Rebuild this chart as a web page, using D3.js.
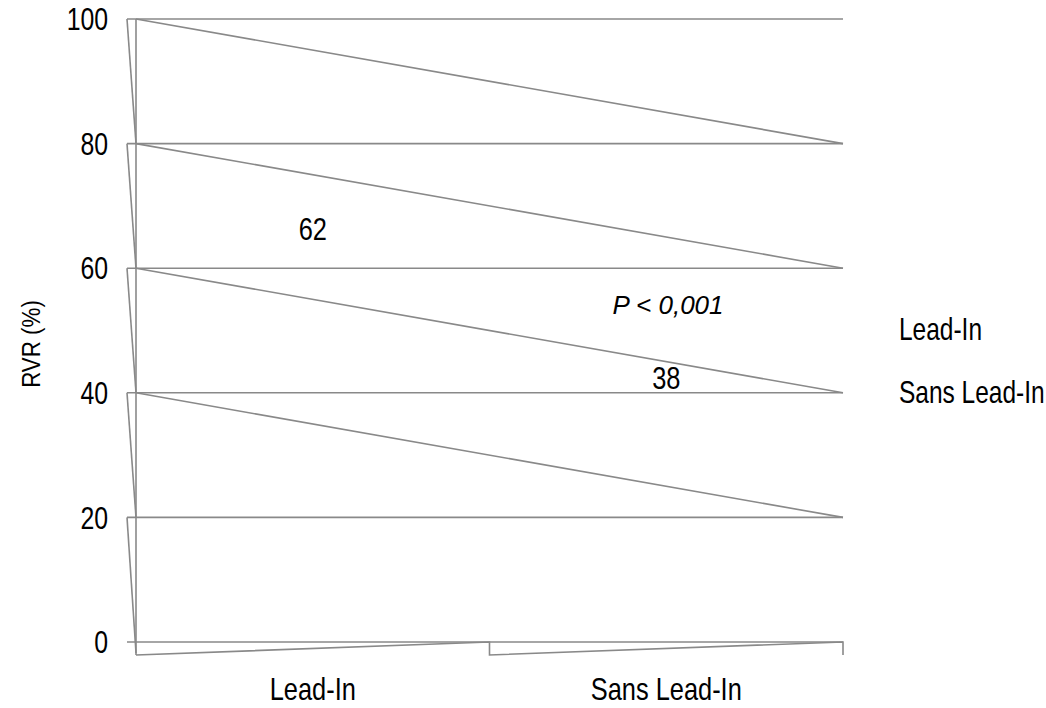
<!DOCTYPE html>
<html><head><meta charset="utf-8">
<script src="https://cdn.jsdelivr.net/npm/d3@7"></script>
<style>body{margin:0;background:#fff}svg{display:block}</style>
</head><body><svg id="c" width="1046" height="708"></svg>
<script>
const categories = ["Lead-In", "Sans Lead-In"];
const values = [62, 38];
const yTicks = [0, 20, 40, 60, 80, 100];
const legendItems = ["Lead-In", "Sans Lead-In"];
const pText = "P < 0,001";
const yTitle = "RVR (%)";

(function () {
const svg = d3.select("#c");
const pLeft = 136, pRight = 843, pTop = 19, pBottom = 642;
const y = d3.scaleLinear().domain([0, 100]).range([pBottom, pTop]);
const x = d3.scaleBand().domain(categories).range([pLeft, pRight]).padding(0);
const col = "#898989";
const sans = "'Liberation Sans', Arial, sans-serif";
const FS = 31;
const g = svg.append("g").attr("fill", "none").attr("stroke", col).attr("stroke-width", 1.6);

// horizontal gridlines
yTicks.forEach(v => {
  g.append("line").attr("x1", pLeft - 9).attr("x2", pRight).attr("y1", y(v)).attr("y2", y(v));
});
// diagonal lines from each level down to the next level on the right
yTicks.slice(2).forEach(v => {
  g.append("line").attr("x1", pLeft).attr("y1", y(v)).attr("x2", pRight).attr("y2", y(v - 20));
});
// y axis zigzag ticks
const tickLen = 13;
yTicks.slice(1).forEach(v => {
  const yEnd = v - 20 === 0 ? y(0) + tickLen - 2 : y(v - 20);
  g.append("line").attr("x1", pLeft - 9).attr("y1", y(v)).attr("x2", pLeft).attr("y2", yEnd);
});
// y axis vertical
g.append("line").attr("x1", pLeft).attr("x2", pLeft).attr("y1", y(100)).attr("y2", y(0) + tickLen);
// x axis zigzag
const xb = [x(categories[0]), x(categories[1]), x(categories[1]) + x.bandwidth()];
const pts = [[xb[0], y(0) + tickLen]];
xb.slice(1).forEach(xx => { pts.push([xx, y(0)]); pts.push([xx, y(0) + tickLen]); });
g.append("path").attr("d", d3.line()(pts));

function ntext(sel, tx, ty, anchor, txt, sx) {
  return sel.append("text")
    .attr("transform", `translate(${tx},${ty}) scale(${sx},1)`)
    .attr("text-anchor", anchor).attr("font-family", sans).attr("font-size", FS)
    .attr("fill", "#000").text(txt);
}

// y tick labels
const yl = svg.append("g");
yTicks.forEach(v => ntext(yl, 108, y(v) + FS * 0.36, "end", v, 0.8));

// x category labels
const xl = svg.append("g");
categories.forEach(c => ntext(xl, x(c) + x.bandwidth() / 2, 700, "middle", c, 0.82));

// value labels
const vl = svg.append("g");
values.forEach((v, i) => ntext(vl, x(categories[i]) + x.bandwidth() / 2, y(v) - 16, "middle", v, 0.82));

// P value
svg.append("text").attr("x", 668).attr("y", 314).attr("text-anchor", "middle")
  .attr("font-family", sans).attr("font-style", "italic")
  .attr("font-size", 26).attr("fill", "#000").text(pText);

// y title
svg.append("text").attr("transform", `translate(40,344) rotate(-90) scale(0.86,1)`).attr("text-anchor", "middle")
  .attr("font-family", sans).attr("font-size", 26)
  .attr("fill", "#000").text(yTitle);

// legend
const lg = svg.append("g");
legendItems.forEach((t, i) => ntext(lg, 899, 340 + i * 63, "start", t, 0.79));
})();
</script></body></html>
